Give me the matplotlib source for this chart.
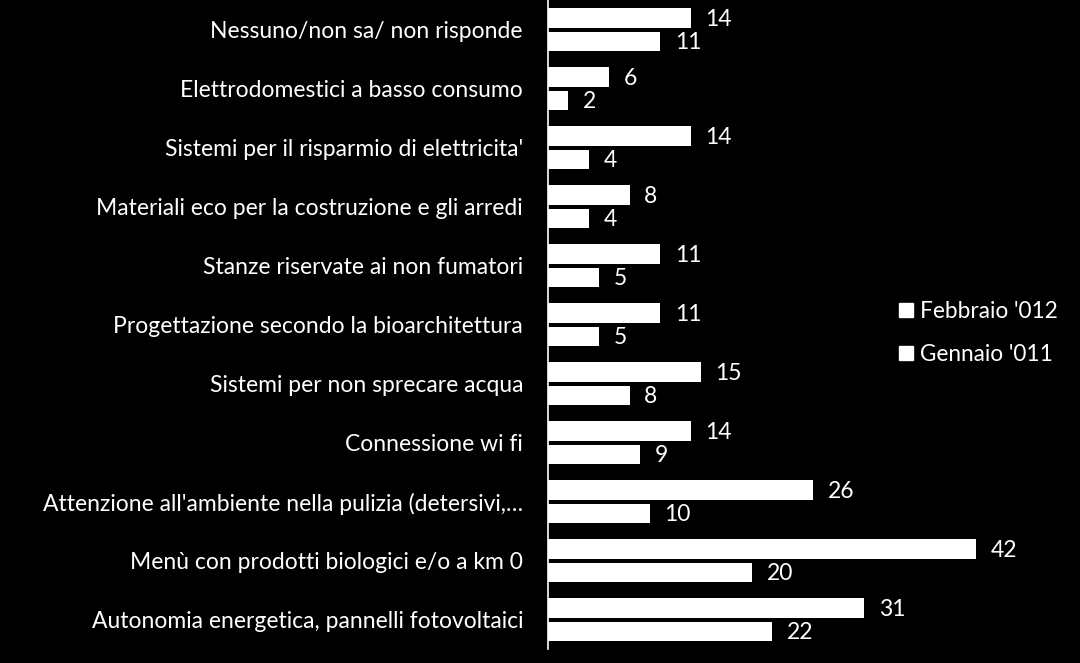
import matplotlib
matplotlib.use("Agg")
import matplotlib.pyplot as plt
import numpy as np
from matplotlib.patches import Patch

categories = [
    "Nessuno/non sa/ non risponde",
    "Elettrodomestici a basso consumo",
    "Sistemi per il risparmio di elettricita'",
    "Materiali eco per la costruzione e gli arredi",
    "Stanze riservate ai non fumatori",
    "Progettazione secondo la bioarchitettura",
    "Sistemi per non sprecare acqua",
    "Connessione wi fi",
    "Attenzione all'ambiente nella pulizia (detersivi,…",
    "Menù con prodotti biologici e/o a km 0",
    "Autonomia energetica, pannelli fotovoltaici",
]
feb_2012 = [14, 6, 14, 8, 11, 11, 15, 14, 26, 42, 31]
jan_2011 = [11, 2, 4, 4, 5, 5, 8, 9, 10, 20, 22]
series_names = ["Febbraio '012", "Gennaio '011"]

plt.rcParams['font.family'] = ['Lato', 'DejaVu Sans']

W, H = 1080, 663
fig = plt.figure(figsize=(W / 100, H / 100), dpi=100, facecolor='black')
ax_left = 548 / W
ax = fig.add_axes([ax_left, 1 - 649 / H, 1 - ax_left, 649 / H], facecolor='black')

y = np.arange(len(categories))
bh = 0.33
ax.barh(y - 0.195, feb_2012, height=bh, color='white', label=series_names[0])
ax.barh(y + 0.203, jan_2011, height=bh, color='white', label=series_names[1])

px_per_unit = 10.2
ax.set_xlim(0, (W - 548) / px_per_unit)
ax.set_ylim(len(categories) - 0.5, -0.5)

fs = 16.5
for yi, v in zip(y - 0.195, feb_2012):
    ax.annotate(str(v), (v, yi), xytext=(10.5, -1.3), textcoords='offset points',
                color='white', fontsize=fs, va='center', ha='left')
for yi, v in zip(y + 0.203, jan_2011):
    ax.annotate(str(v), (v, yi), xytext=(10.5, -1.0), textcoords='offset points',
                color='white', fontsize=fs, va='center', ha='left')

ax.set_yticks(y)
ax.set_yticklabels(categories, color='white', fontsize=fs)
ax.tick_params(axis='y', length=0, pad=18)
ax.set_xticks([])
for s in ['top', 'right', 'bottom']:
    ax.spines[s].set_visible(False)
ax.spines['left'].set_color('white')
ax.spines['left'].set_linewidth(1.2)

handles = [Patch(facecolor='white', edgecolor='white'),
           Patch(facecolor='white', edgecolor='white')]
leg = fig.legend(handles, series_names, loc='center left',
                 bbox_to_anchor=(879 / W, 1 - 333 / H), frameon=False,
                 fontsize=16.3, labelcolor='white', handlelength=0.6,
                 handleheight=0.6, handletextpad=0.3, labelspacing=0.95)

fig.savefig("out.png", dpi=100, facecolor='black')
